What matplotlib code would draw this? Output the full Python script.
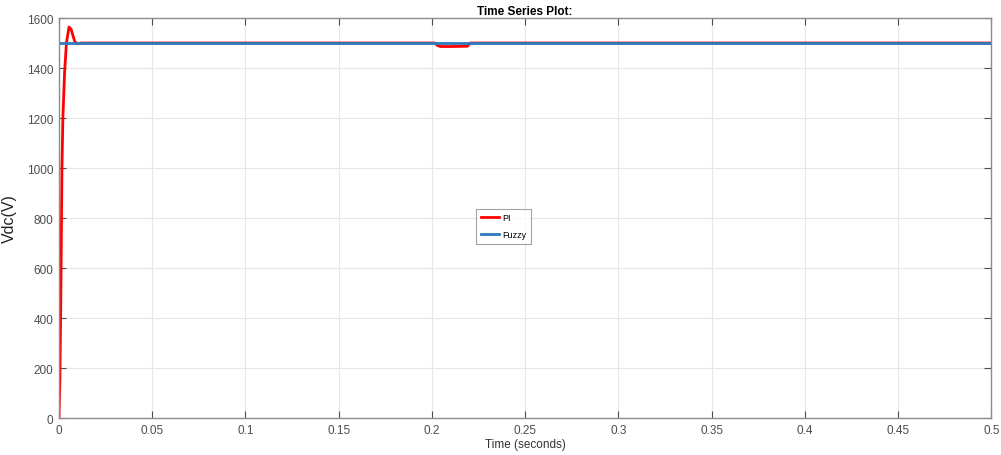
import numpy as np
import matplotlib.pyplot as plt

plt.rcParams['font.family'] = ['Liberation Sans', 'DejaVu Sans']

# PI controller response
t_pi = [0, 0.0005, 0.001, 0.0016, 0.0021, 0.003, 0.004, 0.0054, 0.0065,
        0.0075, 0.0085, 0.010, 0.012, 0.2015, 0.2030, 0.2045, 0.2100,
        0.2190, 0.2205, 0.5]
v_pi = [0, 150, 480, 1000, 1200, 1380, 1500, 1564, 1555,
        1530, 1505, 1497, 1500, 1500, 1490, 1486, 1486,
        1487, 1500, 1500]

# Fuzzy controller response
t_fz = [0, 0.5]
v_fz = [1500, 1500]

xticks = [0, 0.05, 0.1, 0.15, 0.2, 0.25, 0.3, 0.35, 0.4, 0.45, 0.5]
xlabels = ['0', '0.05', '0.1', '0.15', '0.2', '0.25', '0.3', '0.35', '0.4', '0.45', '0.5']
yticks = [0, 200, 400, 600, 800, 1000, 1200, 1400, 1600]

fig = plt.figure(figsize=(10.01, 4.56), dpi=100)
ax = fig.add_axes([0.0589, 0.0811, 0.9316, 0.8772])

ax.plot(t_pi, v_pi, color='#ff0000', lw=2, label='PI')
ax.plot(t_fz, v_fz, color='#2b7bbd', lw=2, label='Fuzzy')

ax.set_xlim(0, 0.5)
ax.set_ylim(0, 1600)
ax.set_xticks(xticks)
ax.set_xticklabels(xlabels)
ax.set_yticks(yticks)
ax.grid(True, color='#e6e6e6', lw=0.8)
ax.set_axisbelow(True)
ax.tick_params(direction='in', length=5, colors='#4d4d4d', labelsize=8.5,
               top=True, right=True, pad=4)
for s in ax.spines.values():
    s.set_color('#8c8c8c')
    s.set_linewidth(1)

ax.set_title('Time Series Plot:', fontsize=8.5, fontweight='bold', pad=3)
ax.set_xlabel('Time (seconds)', fontsize=8.5, color='#333333', labelpad=2)
ax.set_ylabel('Vdc(V)', fontsize=11.5, color='#222222')
ax.yaxis.set_label_coords(-0.045, 0.5)

leg = ax.legend(loc='upper left', bbox_to_anchor=(0.4425, 0.535), fontsize=6.5,
                frameon=True, fancybox=False, handlelength=2.0, borderpad=0.5,
                labelspacing=0.9, handletextpad=0.4)
leg.get_frame().set_edgecolor('#8c8c8c')
leg.get_frame().set_linewidth(0.8)

fig.savefig('out.png', dpi=100)
